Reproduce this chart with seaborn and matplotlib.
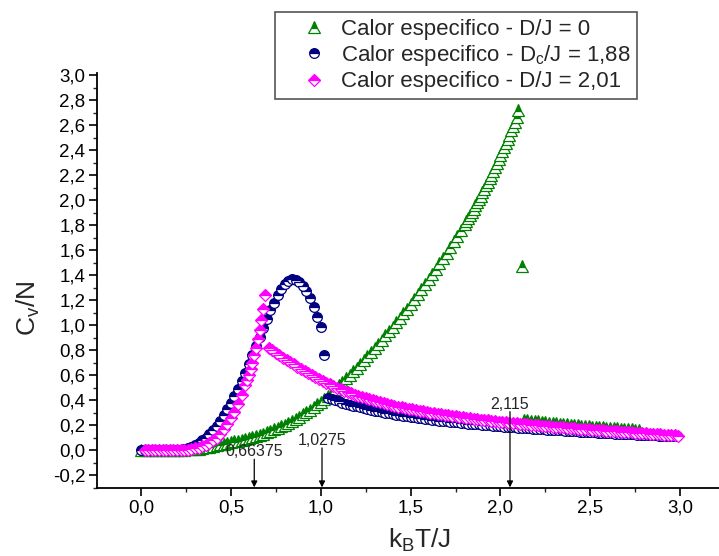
import matplotlib
matplotlib.use("Agg")
import matplotlib.pyplot as plt
from matplotlib.lines import Line2D
from matplotlib.ticker import MultipleLocator, FuncFormatter
import seaborn as sns
import pandas as pd

# ---------------- data ----------------
green_t = [0.00, 0.02, 0.04, 0.06, 0.08, 0.10, 0.12, 0.14, 0.16, 0.18,
           0.20, 0.22, 0.24, 0.26, 0.28, 0.30, 0.32, 0.34, 0.36, 0.38,
           0.40, 0.42, 0.44, 0.46, 0.48, 0.50, 0.52, 0.54, 0.56, 0.58,
           0.60, 0.62, 0.64, 0.66, 0.68, 0.70, 0.72, 0.74, 0.76, 0.78,
           0.80, 0.82, 0.84, 0.86, 0.88, 0.90, 0.92, 0.94, 0.96, 0.98,
           1.00, 1.02, 1.04, 1.06, 1.08, 1.10, 1.12, 1.14, 1.16, 1.18,
           1.20, 1.22, 1.24, 1.26, 1.28, 1.30, 1.32, 1.34, 1.36, 1.38,
           1.40, 1.42, 1.44, 1.46, 1.48, 1.50, 1.52, 1.54, 1.56, 1.58,
           1.60, 1.62, 1.64, 1.66, 1.68, 1.70, 1.72, 1.74, 1.76, 1.78,
           1.80, 1.81, 1.82, 1.83, 1.84, 1.85, 1.86, 1.87, 1.88, 1.89,
           1.90, 1.91, 1.92, 1.93, 1.94, 1.95, 1.96, 1.97, 1.98, 1.99,
           2.00, 2.01, 2.02, 2.03, 2.04, 2.05, 2.06, 2.07, 2.08, 2.09,
           2.10, 2.12,
           2.13, 2.15, 2.17, 2.19, 2.21, 2.23, 2.25, 2.27, 2.29, 2.31,
           2.33, 2.35, 2.37, 2.39, 2.41, 2.43, 2.45, 2.47, 2.49, 2.51,
           2.53, 2.55, 2.57, 2.59, 2.61, 2.63, 2.65, 2.67, 2.69, 2.71,
           2.73, 2.75, 2.77]
green_cv = [0.000, 0.000, 0.000, 0.000, 0.000, 0.000, 0.000, 0.001, 0.001, 0.002,
            0.003, 0.004, 0.006, 0.008, 0.010, 0.012, 0.015, 0.019, 0.024, 0.030,
            0.036, 0.042, 0.048, 0.054, 0.060, 0.066, 0.072, 0.078, 0.084, 0.090,
            0.097, 0.105, 0.114, 0.124, 0.135, 0.146, 0.157, 0.168, 0.180, 0.192,
            0.205, 0.220, 0.236, 0.253, 0.270, 0.288, 0.307, 0.327, 0.347, 0.368,
            0.390, 0.414, 0.439, 0.465, 0.492, 0.520, 0.547, 0.575, 0.603, 0.631,
            0.660, 0.691, 0.722, 0.754, 0.787, 0.820, 0.853, 0.886, 0.920, 0.955,
            0.990, 1.025, 1.060, 1.096, 1.133, 1.170, 1.209, 1.248, 1.288, 1.329,
            1.370, 1.411, 1.452, 1.494, 1.537, 1.580, 1.625, 1.670, 1.716, 1.763,
            1.810, 1.834, 1.858, 1.883, 1.908, 1.933, 1.958, 1.984, 2.010, 2.036,
            2.062, 2.090, 2.118, 2.146, 2.175, 2.204, 2.233, 2.263, 2.294, 2.326,
            2.358, 2.390, 2.423, 2.456, 2.490, 2.524, 2.558, 2.593, 2.628, 2.668,
            2.720, 1.470,
            0.245, 0.241, 0.238, 0.235, 0.232, 0.229, 0.226, 0.223, 0.220, 0.217,
            0.214, 0.211, 0.208, 0.206, 0.203, 0.201, 0.198, 0.196, 0.193, 0.191,
            0.189, 0.187, 0.185, 0.182, 0.180, 0.178, 0.176, 0.174, 0.172, 0.170,
            0.168, 0.166, 0.164]

blue_t = [0.00, 0.02, 0.04, 0.06, 0.08, 0.10, 0.12, 0.14, 0.16, 0.18,
          0.20, 0.22, 0.24, 0.26, 0.28, 0.30, 0.32, 0.34, 0.36, 0.38,
          0.40, 0.42, 0.44, 0.46, 0.48, 0.50, 0.52, 0.54, 0.56, 0.58,
          0.60, 0.62, 0.64, 0.66, 0.68, 0.70, 0.72, 0.74, 0.76, 0.78,
          0.80, 0.82, 0.84, 0.86, 0.88, 0.90, 0.92, 0.94, 0.96, 0.98,
          1.00, 1.02,
          1.04, 1.06, 1.08, 1.10, 1.12, 1.14, 1.16, 1.18, 1.20, 1.22,
          1.24, 1.26, 1.28, 1.30, 1.32, 1.34, 1.36, 1.38, 1.40, 1.42,
          1.44, 1.46, 1.48, 1.50, 1.52, 1.54, 1.56, 1.58, 1.60, 1.62,
          1.64, 1.66, 1.68, 1.70, 1.72, 1.74, 1.76, 1.78, 1.80, 1.82,
          1.84, 1.86, 1.88, 1.90, 1.92, 1.94, 1.96, 1.98, 2.00, 2.02,
          2.04, 2.06, 2.08, 2.10, 2.12, 2.14, 2.16, 2.18, 2.20, 2.22,
          2.24, 2.26, 2.28, 2.30, 2.32, 2.34, 2.36, 2.38, 2.40, 2.42,
          2.44, 2.46, 2.48, 2.50, 2.52, 2.54, 2.56, 2.58, 2.60, 2.62,
          2.64, 2.66, 2.68, 2.70, 2.72, 2.74, 2.76, 2.78, 2.80, 2.82,
          2.84, 2.86, 2.88, 2.90, 2.92, 2.94, 2.96, 2.98]
blue_cv = [0.000, 0.000, 0.000, 0.000, 0.000, 0.000, 0.000, 0.000, 0.001, 0.002,
           0.004, 0.007, 0.011, 0.017, 0.026, 0.045, 0.060, 0.080, 0.103, 0.130,
           0.160, 0.195, 0.235, 0.280, 0.328, 0.380, 0.432, 0.492, 0.555, 0.622,
           0.692, 0.765, 0.838, 0.910, 0.980, 1.050, 1.120, 1.180, 1.240, 1.290,
           1.330, 1.355, 1.370, 1.365, 1.345, 1.315, 1.275, 1.220, 1.150, 1.070,
           0.990, 0.760,
           0.420, 0.410, 0.401, 0.392, 0.383, 0.375, 0.367, 0.359, 0.352, 0.345,
           0.338, 0.331, 0.325, 0.319, 0.313, 0.307, 0.302, 0.297, 0.292, 0.287,
           0.282, 0.277, 0.273, 0.269, 0.265, 0.261, 0.257, 0.253, 0.249, 0.246,
           0.242, 0.239, 0.236, 0.233, 0.230, 0.227, 0.224, 0.221, 0.218, 0.215,
           0.213, 0.210, 0.208, 0.205, 0.203, 0.200, 0.198, 0.196, 0.193, 0.191,
           0.189, 0.187, 0.185, 0.183, 0.181, 0.179, 0.177, 0.175, 0.173, 0.171,
           0.169, 0.167, 0.165, 0.163, 0.161, 0.160, 0.158, 0.156, 0.154, 0.153,
           0.151, 0.149, 0.148, 0.146, 0.144, 0.143, 0.141, 0.140, 0.138, 0.137,
           0.135, 0.134, 0.132, 0.131, 0.129, 0.128, 0.127, 0.125, 0.124, 0.123,
           0.121, 0.120, 0.119, 0.118, 0.116, 0.115, 0.114, 0.113]

pink_t = [0.02, 0.04, 0.06, 0.08, 0.10, 0.12, 0.14, 0.16, 0.18,
          0.20, 0.22, 0.24, 0.26, 0.28, 0.30, 0.32, 0.34, 0.36, 0.38,
          0.40, 0.42, 0.44, 0.46, 0.48, 0.50, 0.52, 0.54, 0.56, 0.58,
          0.59, 0.60, 0.61, 0.62, 0.63, 0.64, 0.65, 0.66, 0.67, 0.68, 0.69,
          0.71, 0.73, 0.75, 0.77, 0.79, 0.81, 0.83, 0.85, 0.87, 0.89,
          0.91, 0.93, 0.95, 0.97, 0.99, 1.01, 1.03, 1.05, 1.07, 1.09,
          1.11, 1.13, 1.15, 1.17, 1.19, 1.21, 1.23, 1.25, 1.27, 1.29,
          1.31, 1.33, 1.35, 1.37, 1.39, 1.41, 1.43, 1.45, 1.47, 1.49,
          1.51, 1.53, 1.55, 1.57, 1.59, 1.61, 1.63, 1.65, 1.67, 1.69,
          1.71, 1.73, 1.75, 1.77, 1.79, 1.81, 1.83, 1.85, 1.87, 1.89,
          1.91, 1.93, 1.95, 1.97, 1.99, 2.01, 2.03, 2.05, 2.07, 2.09,
          2.11, 2.13, 2.15, 2.17, 2.19, 2.21, 2.23, 2.25, 2.27, 2.29,
          2.31, 2.33, 2.35, 2.37, 2.39, 2.41, 2.43, 2.45, 2.47, 2.49,
          2.51, 2.53, 2.55, 2.57, 2.59, 2.61, 2.63, 2.65, 2.67, 2.69,
          2.71, 2.73, 2.75, 2.77, 2.79, 2.81, 2.83, 2.85, 2.87, 2.89,
          2.91, 2.93, 2.95, 2.97, 2.99]
pink_cv = [0.000, 0.000, 0.000, 0.000, 0.000, 0.000, 0.000, 0.000, 0.000,
           0.001, 0.002, 0.004, 0.007, 0.011, 0.016, 0.023, 0.032, 0.043, 0.057,
           0.080, 0.100, 0.130, 0.170, 0.210, 0.260, 0.310, 0.370, 0.440, 0.520,
           0.560, 0.600, 0.650, 0.700, 0.760, 0.820, 0.890, 0.960, 1.040, 1.130, 1.240,
           0.820, 0.800, 0.780, 0.761, 0.742, 0.723, 0.705, 0.687, 0.669, 0.652,
           0.635, 0.618, 0.602, 0.586, 0.571, 0.556, 0.542, 0.528, 0.515, 0.502,
           0.490, 0.478, 0.467, 0.456, 0.446, 0.436, 0.427, 0.418, 0.409, 0.401,
           0.393, 0.385, 0.378, 0.371, 0.364, 0.357, 0.351, 0.345, 0.339, 0.333,
           0.328, 0.322, 0.317, 0.312, 0.307, 0.302, 0.297, 0.293, 0.288, 0.284,
           0.280, 0.276, 0.272, 0.268, 0.264, 0.260, 0.257, 0.253, 0.250, 0.246,
           0.243, 0.240, 0.237, 0.234, 0.231, 0.228, 0.225, 0.222, 0.219, 0.216,
           0.214, 0.211, 0.208, 0.206, 0.203, 0.201, 0.198, 0.196, 0.193, 0.191,
           0.189, 0.186, 0.184, 0.182, 0.180, 0.177, 0.175, 0.173, 0.171, 0.169,
           0.167, 0.165, 0.163, 0.161, 0.159, 0.157, 0.155, 0.153, 0.151, 0.149,
           0.147, 0.145, 0.143, 0.141, 0.139, 0.137, 0.135, 0.133, 0.131, 0.129,
           0.127, 0.125, 0.123, 0.121, 0.119]

labels = ["Calor especifico - D/J = 0",
          r"Calor especifico - D$_\mathregular{c}$/J = 1,88",
          "Calor especifico - D/J = 2,01"]
mark_labels = ["0,66375", "1,0275", "2,115"]
mark_pos = [0.63, 1.007, 2.053]
mark_top = [-0.07, 0.02, 0.31]

# ---------------- style ----------------
sns.set_style("ticks")
plt.rcParams["font.family"] = ["Liberation Sans", "DejaVu Sans"]
plt.rcParams["mathtext.fontset"] = "custom"
plt.rcParams["mathtext.rm"] = "Liberation Sans"
plt.rcParams["mathtext.it"] = "Liberation Sans:italic"

fig = plt.figure(figsize=(7.19, 5.56), dpi=100)
ax = fig.add_axes([97 / 719, 68 / 556, 622 / 719, 415 / 556])

series = [
    (green_t, green_cv, "^", "#008000", 8.0),
    (blue_t, blue_cv, "o", "#000080", 7.0),
    (pink_t, pink_cv, "D", "#FF00FF", 6.4),
]
handles = []
for (t, cv, mk, col, ms), lab in zip(series, labels):
    df = pd.DataFrame({"t": t, "cv": cv})
    style = dict(marker=mk, linestyle="", color=col, markersize=ms,
                 markeredgecolor=col, markeredgewidth=0.9,
                 fillstyle="top", markerfacecoloralt="white")
    sns.lineplot(data=df, x="t", y="cv", ax=ax, estimator=None, sort=False,
                 legend=False, **style)
    handles.append(Line2D([], [], label=lab, **style))

ax.set_xlim(-0.245, 3.216)
ax.set_ylim(-0.3, 3.016)

ax.xaxis.set_major_locator(MultipleLocator(0.5))
ax.xaxis.set_minor_locator(MultipleLocator(0.25))
ax.yaxis.set_major_locator(MultipleLocator(0.2))
ax.yaxis.set_minor_locator(MultipleLocator(0.1))
fmt = FuncFormatter(lambda v, p: ("%.1f" % v).replace(".", ",").replace("-0,0", "0,0"))
ax.xaxis.set_major_formatter(fmt)
ax.yaxis.set_major_formatter(fmt)
ax.tick_params(which="major", direction="out", length=5.5, width=1.2,
               labelsize=13.5, colors="black", pad=3)
ax.tick_params(which="minor", direction="out", length=3, width=1.0)

for s in ["top", "right"]:
    ax.spines[s].set_visible(False)
for s in ["left", "bottom"]:
    ax.spines[s].set_linewidth(1.3)
    ax.spines[s].set_color("black")

ax.set_xlabel(r"k$_\mathregular{B}$T/J", fontsize=19)
ax.set_ylabel(r"C$_\mathregular{v}$/N", fontsize=19)
ax.xaxis.set_label_coords(0.519, -0.093)
ax.yaxis.set_label_coords(-0.088, 0.434)

for xp, lab, top in zip(mark_pos, mark_labels, mark_top):
    ax.annotate("", xy=(xp, -0.295), xytext=(xp, top),
                arrowprops=dict(arrowstyle="-|>", color="black", lw=0.9,
                                mutation_scale=9, shrinkA=0, shrinkB=0))
    ax.text(xp, top + 0.0, lab, ha="center", va="bottom", fontsize=11.5)

leg = fig.legend(handles=handles, loc="upper left",
                 bbox_to_anchor=(275 / 719, 1 - 12 / 556),
                 frameon=True, fancybox=False, framealpha=1,
                 edgecolor="#555555", fontsize=16, handlelength=2.9,
                 handletextpad=-0.25, labelspacing=0.15, borderpad=0.3,
                 borderaxespad=0)
leg.get_frame().set_linewidth(1.2)

fig.savefig("out.png", dpi=100)
